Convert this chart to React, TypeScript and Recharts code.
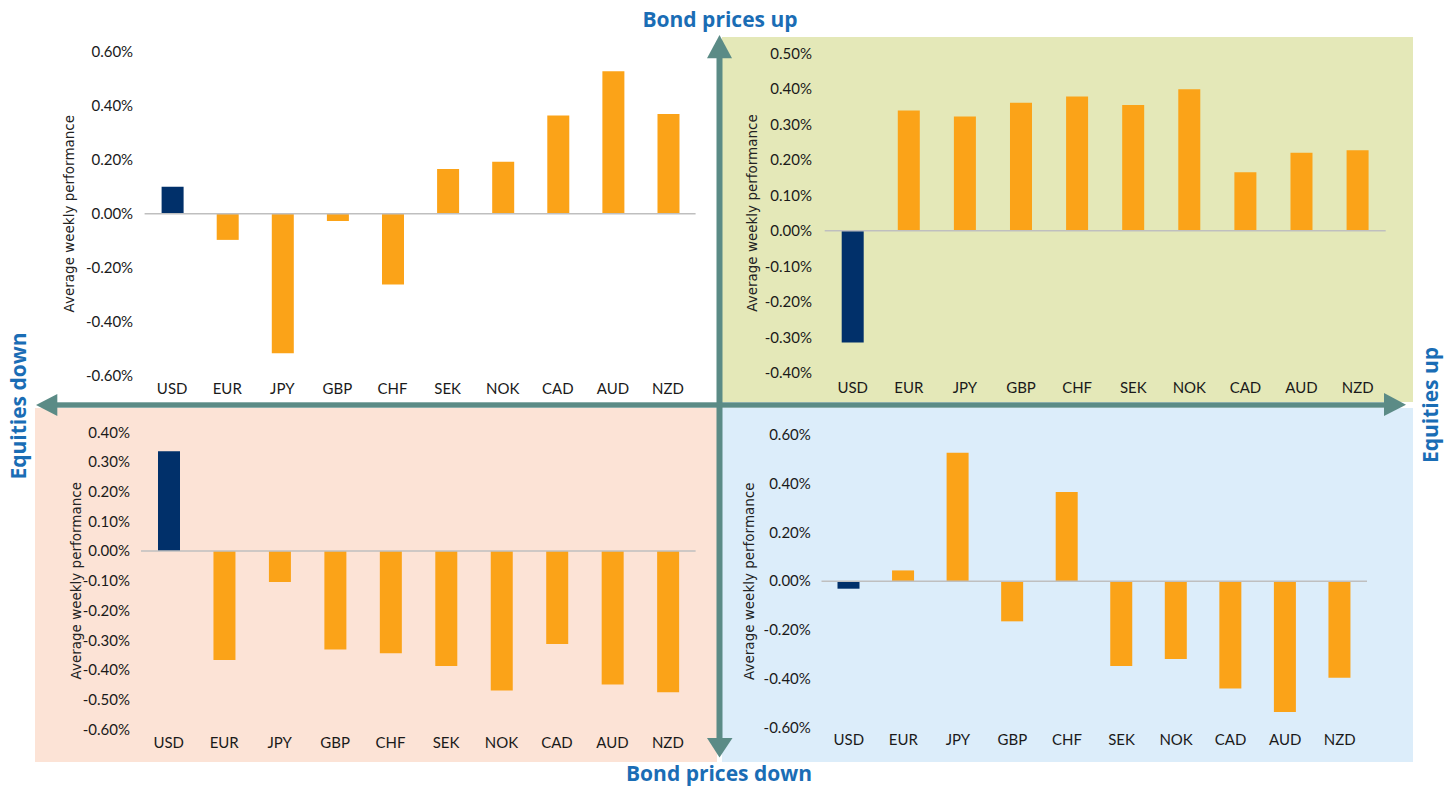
import React from 'react';
import { BarChart, Bar, XAxis, YAxis, Cell, ReferenceLine } from 'recharts';

const currencies = ['USD', 'EUR', 'JPY', 'GBP', 'CHF', 'SEK', 'NOK', 'CAD', 'AUD', 'NZD'];

// average weekly performance (%) in each regime
const bondsUpEquitiesDown = [0.10, -0.097, -0.517, -0.027, -0.262, 0.166, 0.192, 0.364, 0.528, 0.369];
const bondsUpEquitiesUp = [-0.315, 0.339, 0.322, 0.361, 0.378, 0.354, 0.399, 0.165, 0.22, 0.227];
const bondsDownEquitiesDown = [0.336, -0.367, -0.104, -0.331, -0.344, -0.387, -0.469, -0.313, -0.449, -0.475];
const bondsDownEquitiesUp = [-0.031, 0.044, 0.527, -0.165, 0.366, -0.348, -0.32, -0.441, -0.537, -0.397];

const ticksTL = [-0.6, -0.4, -0.2, 0, 0.2, 0.4, 0.6];
const ticksTR = [-0.4, -0.3, -0.2, -0.1, 0, 0.1, 0.2, 0.3, 0.4, 0.5];
const ticksBL = [-0.6, -0.5, -0.4, -0.3, -0.2, -0.1, 0, 0.1, 0.2, 0.3, 0.4];
const ticksBR = [-0.6, -0.4, -0.2, 0, 0.2, 0.4, 0.6];

const ORANGE = '#FBA318';
const NAVY = '#01306A';
const ARROW = '#5B8B86';
const BLUE = '#1A6DB5';

const tickFont = { fontFamily: 'Lato, "Liberation Sans", sans-serif', fontSize: 15, fill: '#1a1a1a' };

const toRows = (values: number[]) => currencies.map((c, i) => ({ name: c, value: values[i] }));

interface QuadProps {
  values: number[];
  ticks: number[];
  left: number;
  top: number;
  width: number;
  height: number;
  marginTop: number;
  yWidth: number;
  titleOffset: number;
  yTickMargin: number;
  xTickMargin: number;
}

function QuadChart(p: QuadProps) {
  const data = toRows(p.values);
  return (
    <div style={{ position: 'absolute', left: p.left, top: p.top }}>
      <BarChart
        width={p.width}
        height={p.height}
        data={data}
        margin={{ top: p.marginTop, right: 10, bottom: 0, left: 0 }}
        barSize={22}
      >
        <XAxis
          dataKey="name"
          tick={tickFont}
          tickLine={false}
          axisLine={false}
          height={30}
          tickMargin={p.xTickMargin}
          interval={0}
        />
        <YAxis
          domain={[p.ticks[0], p.ticks[p.ticks.length - 1]]}
          ticks={p.ticks}
          tick={tickFont}
          tickLine={false}
          axisLine={false}
          width={p.yWidth}
          tickMargin={p.yTickMargin}
          tickFormatter={(v: number) => `${v.toFixed(2)}%`}
          label={{
            value: 'Average weekly performance',
            angle: -90,
            position: 'insideLeft',
            offset: p.titleOffset,
            style: { textAnchor: 'middle', fontFamily: '"DejaVu Sans", sans-serif', fontSize: 13.5, fill: '#222' },
          }}
        />
        <ReferenceLine y={0} stroke="#BFBFBF" strokeWidth={1.5} />
        <Bar dataKey="value" isAnimationActive={false}>
          {data.map((d, i) => (
            <Cell key={d.name} fill={i === 0 ? NAVY : ORANGE} />
          ))}
        </Bar>
      </BarChart>
    </div>
  );
}

const labelStyle: React.CSSProperties = {
  position: 'absolute',
  fontFamily: '"Open Sans", sans-serif',
  fontWeight: 700,
  fontSize: 21,
  color: BLUE,
  whiteSpace: 'nowrap',
  lineHeight: '24px',
};

export default function App() {
  return (
    <div style={{ position: 'absolute', left: 0, top: 0, width: 1450, height: 786, background: '#fff', overflow: 'hidden' }}>
      {/* quadrant backgrounds */}
      <div style={{ position: 'absolute', left: 722, top: 37, width: 691, height: 365, background: '#E4E8B8' }} />
      <div style={{ position: 'absolute', left: 35, top: 408, width: 682, height: 354, background: '#FCE3D6' }} />
      <div style={{ position: 'absolute', left: 722, top: 408, width: 691, height: 354, background: '#DCEDFA' }} />

      <QuadChart values={bondsUpEquitiesDown} ticks={ticksTL} left={40} top={40} width={665.6} height={365.7}
        marginTop={11.7} yWidth={104.6} titleOffset={29} yTickMargin={5.5} xTickMargin={1.6} />
      <QuadChart values={bondsUpEquitiesUp} ticks={ticksTR} left={722} top={40} width={673.7} height={362.7}
        marginTop={13.3} yWidth={102.7} titleOffset={30.6} yTickMargin={6.7} xTickMargin={3.6} />
      <QuadChart values={bondsDownEquitiesDown} ticks={ticksBL} left={36} top={410} width={669.6} height={349.3}
        marginTop={22.3} yWidth={105} titleOffset={40} yTickMargin={5} xTickMargin={1.6} />
      <QuadChart values={bondsDownEquitiesUp} ticks={ticksBR} left={722} top={410} width={655} height={347.3}
        marginTop={25} yWidth={99.5} titleOffset={27} yTickMargin={4.7} xTickMargin={1.3} />

      {/* quadrant arrows */}
      <svg width={1450} height={786} style={{ position: 'absolute', left: 0, top: 0 }}>
        <rect x={716.5} y={57} width={6} height={682} fill={ARROW} />
        <polygon points="719.5,35 707,58.3 732,58.3" fill={ARROW} />
        <polygon points="707,738 732.5,738 719.5,757.5" fill={ARROW} />
        <rect x={56} y={402.3} width={1329} height={5.4} fill={ARROW} />
        <polygon points="36,405 57.3,394 57.3,416" fill={ARROW} />
        <polygon points="1406,404.7 1384,393 1384,416" fill={ARROW} />
      </svg>

      <div style={{ ...labelStyle, left: 720, top: 7, transform: 'translateX(-50%)' }}>Bond prices up</div>
      <div style={{ ...labelStyle, left: 719, top: 761, transform: 'translateX(-50%)' }}>Bond prices down</div>
      <div style={{ ...labelStyle, left: 18, top: 406, transform: 'translate(-50%, -50%) rotate(-90deg)' }}>Equities down</div>
      <div style={{ ...labelStyle, left: 1430, top: 405, transform: 'translate(-50%, -50%) rotate(-90deg)' }}>Equities up</div>
    </div>
  );
}
